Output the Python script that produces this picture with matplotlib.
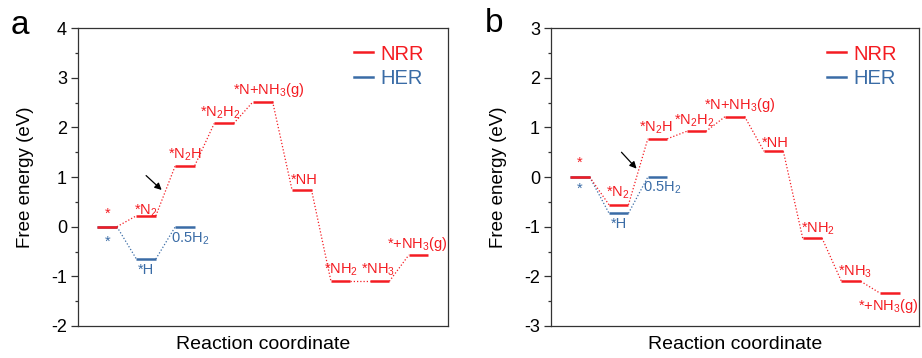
"""Free energy diagrams for NRR vs HER on two catalysts (panels a and b)."""
import numpy as np
import matplotlib
matplotlib.use("Agg")
import matplotlib.pyplot as plt
from matplotlib.ticker import MultipleLocator
from matplotlib.lines import Line2D

plt.rcParams["font.family"] = ["Liberation Sans", "DejaVu Sans"]
plt.rcParams["mathtext.fontset"] = "custom"
plt.rcParams["mathtext.rm"] = "Liberation Sans"
plt.rcParams["mathtext.default"] = "regular"
plt.rcParams["axes.unicode_minus"] = False

RED = "#f41c22"
BLUE = "#3a6ca6"
SPINE = "#333333"

# --- data -------------------------------------------------------------
nrr_labels = ["*", "*N$_2$", "*N$_2$H", "*N$_2$H$_2$", "*N+NH$_3$(g)",
              "*NH", "*NH$_2$", "*NH$_3$", "*+NH$_3$(g)"]
her_labels = ["*", "*H", "0.5H$_2$"]

nrr_a = [0.00, 0.22, 1.23, 2.08, 2.52, 0.74, -1.10, -1.10, -0.57]
her_a = [0.00, -0.65, 0.00]
nrr_b = [0.00, -0.56, 0.77, 0.92, 1.22, 0.52, -1.23, -2.10, -2.34]
her_b = [0.00, -0.73, 0.00]

# label offsets (dx, y) per step, per panel
nrr_lab_a = [(0, 0.27), (0, 0.33), (0, 1.45), (-0.1, 2.3), (0.14, 2.75),
             (0.06, 0.95), (0.0, -0.87), (-0.05, -0.87), (-0.02, -0.34)]
her_lab_a = [(0, -0.30), (0, -0.88), (0.12, -0.25)]
nrr_lab_b = [(0, 0.29), (-0.02, -0.32), (-0.03, 1.00), (-0.04, 1.14), (0.11, 1.45),
             (0.04, 0.69), (0.14, -1.04), (0.11, -1.91), (-0.03, -2.59)]
her_lab_b = [(0, -0.24), (0, -0.95), (0.12, -0.22)]

arrow_a = ((2.0, 1.03), (2.40, 0.74))
arrow_b = ((2.07, 0.50), (2.46, 0.17))

HW = 0.25  # half width of an energy level


def draw_path(ax, xs, ys, color):
    for x, y in zip(xs, ys):
        ax.plot([x - HW, x + HW], [y, y], color=color, lw=1.8, solid_capstyle="butt")
    for i in range(len(xs) - 1):
        ax.plot([xs[i] + HW, xs[i + 1] - HW], [ys[i], ys[i + 1]],
                color=color, lw=0.9, ls=(0, (1.0, 1.6)))


def draw_panel(ax, nrr, her, nrr_lab, her_lab, arrow, ylim, leg_x):
    x_nrr = np.arange(1, len(nrr) + 1)
    x_her = np.array([1, 2, 3])
    draw_path(ax, x_her, her, BLUE)
    draw_path(ax, x_nrr, nrr, RED)

    for x, lab, (dx, y) in zip(x_nrr, nrr_labels, nrr_lab):
        ax.text(x + dx, y, lab, color=RED, fontsize=10.5, ha="center", va="center")
    for x, lab, (dx, y) in zip(x_her, her_labels, her_lab):
        ax.text(x + dx, y, lab, color=BLUE, fontsize=10.5, ha="center", va="center")

    ax.annotate("", xy=arrow[1], xytext=arrow[0],
                arrowprops=dict(arrowstyle="-|>", color="black", lw=0.9,
                                mutation_scale=10, shrinkA=0, shrinkB=0))

    ax.set_xlim(0.25, 9.75)
    ax.set_ylim(*ylim)
    ax.yaxis.set_major_locator(MultipleLocator(1))
    ax.yaxis.set_minor_locator(MultipleLocator(0.5))
    ax.set_xticks([])
    ax.tick_params(axis="y", which="major", direction="out", length=5, width=0.9,
                   color=SPINE, labelsize=13, pad=3)
    ax.tick_params(axis="y", which="minor", direction="out", length=2.5, width=0.9,
                   color=SPINE)
    for s in ax.spines.values():
        s.set_color(SPINE)
        s.set_linewidth(0.9)
    ax.set_ylabel("Free energy (eV)", fontsize=13.5, labelpad=12)
    ax.set_xlabel("Reaction coordinate", fontsize=14, labelpad=7)

    handles = [Line2D([], [], color=RED, lw=1.8), Line2D([], [], color=BLUE, lw=1.8)]
    leg = ax.legend(handles, ["NRR", "HER"], loc="upper right", frameon=False,
                    fontsize=14.5, handlelength=0.95, handletextpad=0.35,
                    labelspacing=0.25, borderpad=0, borderaxespad=0,
                    bbox_to_anchor=(leg_x, 0.945))
    for t, c in zip(leg.get_texts(), [RED, BLUE]):
        t.set_color(c)


fig = plt.figure(figsize=(9.22, 3.58), dpi=100)
ax_a = fig.add_axes([0.0846, 0.0894, 0.401, 0.832])
ax_b = fig.add_axes([0.5976, 0.0894, 0.399, 0.832])

draw_panel(ax_a, nrr_a, her_a, nrr_lab_a, her_lab_a, arrow_a, (-2, 4), 0.935)
draw_panel(ax_b, nrr_b, her_b, nrr_lab_b, her_lab_b, arrow_b, (-3, 3), 0.94)

fig.text(20 / 922, 1 - 26 / 358, "a", fontsize=24, ha="center", va="center")
fig.text(494 / 922, 1 - 24 / 358, "b", fontsize=24, ha="center", va="center")

fig.savefig("out.png", dpi=100)
